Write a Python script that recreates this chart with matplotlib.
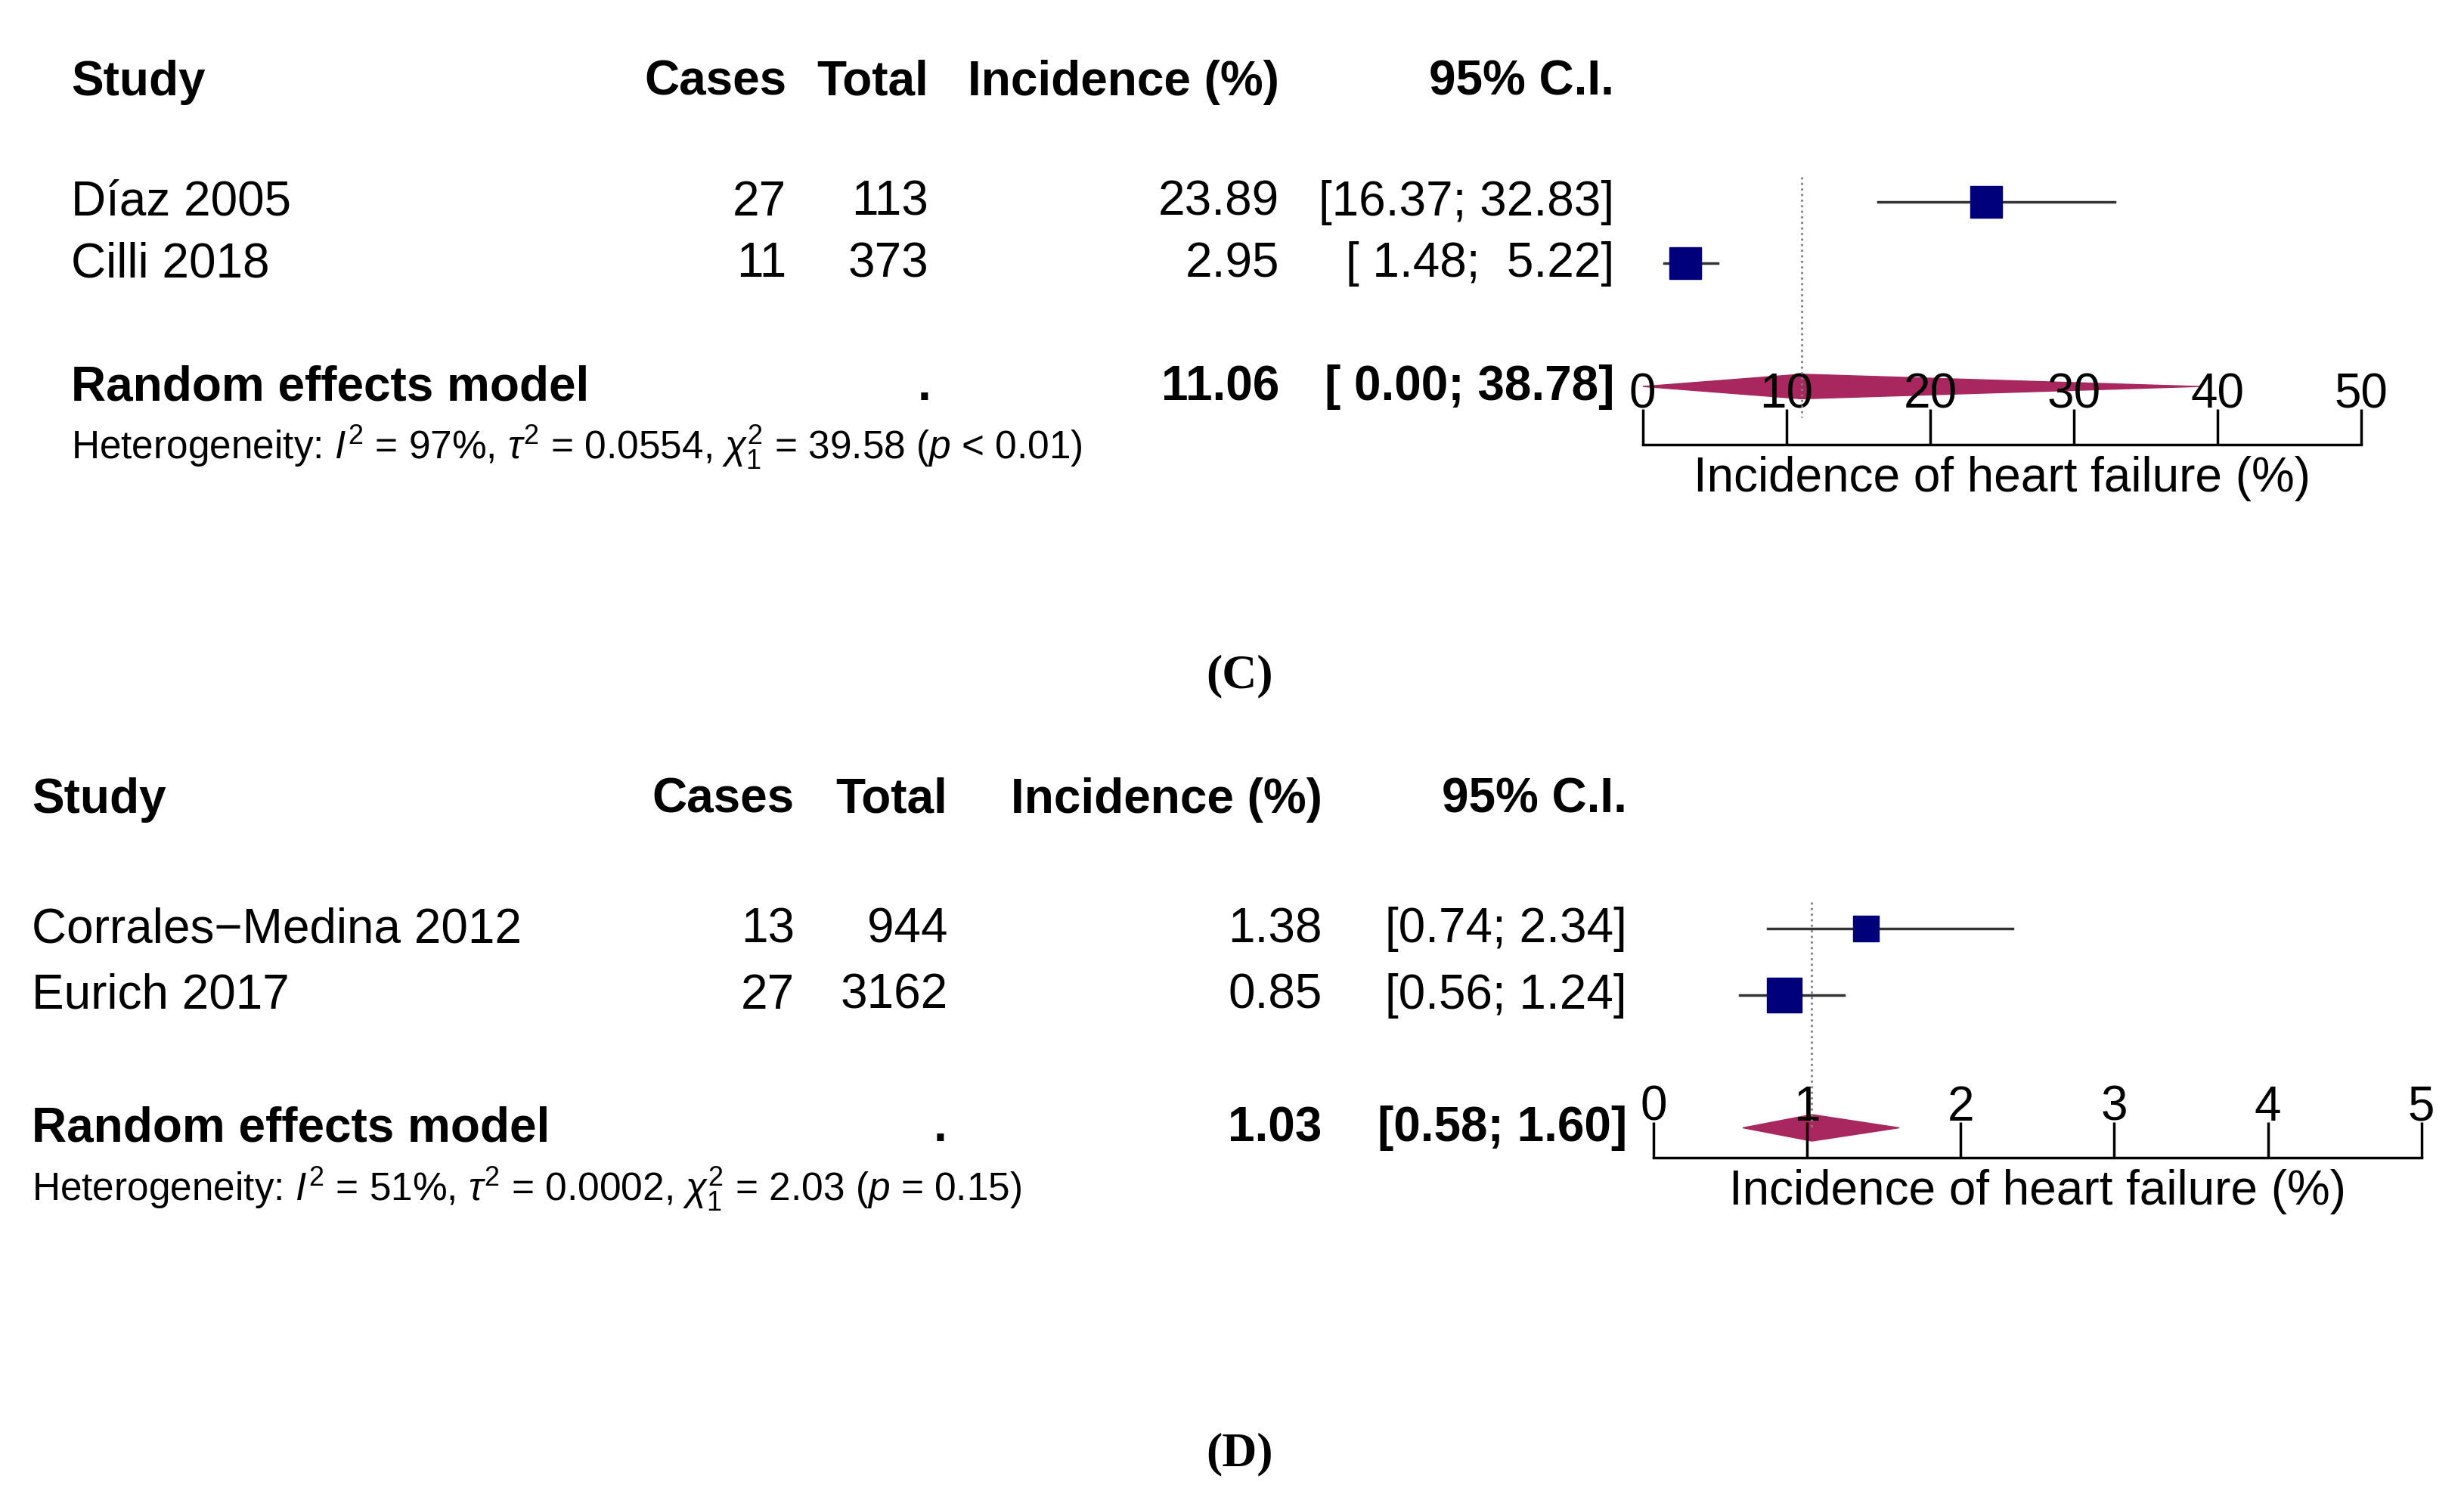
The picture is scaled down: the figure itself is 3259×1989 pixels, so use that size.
import numpy as np
import matplotlib.pyplot as plt

plt.rcParams['font.family'] = ['Liberation Sans', 'DejaVu Sans']
plt.rcParams['mathtext.fontset'] = 'custom'
plt.rcParams['mathtext.rm'] = 'Liberation Sans'
plt.rcParams['mathtext.it'] = 'Liberation Sans:italic'

# panel C data
c_studies = ['Díaz 2005', 'Cilli 2018']
c_cases = [27, 11]
c_total = [113, 373]
c_est = [23.89, 2.95]
c_lo = [16.37, 1.48]
c_hi = [32.83, 5.22]
c_ci_txt = ['[16.37; 32.83]', '[ 1.48;  5.22]']
c_size = [30, 30]
c_pool = (11.06, 0.00, 38.78)
c_pool_txt = '[ 0.00; 38.78]'
c_het = r'Heterogeneity: $I^2$ = 97%, $\tau^2$ = 0.0554, $\chi^2_1$ = 39.58 ($p$ < 0.01)'
c_ticks = [0, 10, 20, 30, 40, 50]

# panel D data
d_studies = ['Corrales\u2212Medina 2012', 'Eurich 2017']
d_cases = [13, 27]
d_total = [944, 3162]
d_est = [1.38, 0.85]
d_lo = [0.74, 0.56]
d_hi = [2.34, 1.24]
d_ci_txt = ['[0.74; 2.34]', '[0.56; 1.24]']
d_size = [24, 33]
d_pool = (1.03, 0.58, 1.60)
d_pool_txt = '[0.58; 1.60]'
d_het = r'Heterogeneity: $I^2$ = 51%, $\tau^2$ = 0.0002, $\chi^2_1$ = 2.03 ($p$ = 0.15)'
d_ticks = [0, 1, 2, 3, 4, 5]

W, H = 1560, 952  # reference coords (scaled view)
fig = plt.figure(figsize=(32.59, 19.90), dpi=100)
FS = 46


def txt(x, y, s, **kw):
    kw.setdefault('fontsize', FS)
    kw.setdefault('va', 'center')
    fig.text(x / W, 1 - y / H, s, **kw)


def panel(studies, cases, total, est, lo, hi, ci_txt, size, pool, pool_txt, het, ticks,
          y0, xs, ax_x, ax_y, letter, ly):
    sx, cx, tx, ix, cix, dotx = xs
    txt(sx, y0, 'Study', fontweight='bold')
    txt(cx, y0, 'Cases', fontweight='bold', ha='right')
    txt(tx, y0, 'Total', fontweight='bold', ha='right')
    txt(ix, y0, 'Incidence (%)', fontweight='bold', ha='right')
    txt(cix, y0, '95% C.I.', fontweight='bold', ha='right')
    r0, dr, top, bottom = ax_y
    for i in range(len(studies)):
        y = r0 + i * dr
        txt(sx, y, studies[i])
        txt(cx, y, str(cases[i]), ha='right')
        txt(tx, y, str(total[i]), ha='right')
        txt(ix, y, f'{est[i]:.2f}', ha='right')
        txt(cix, y, ci_txt[i], ha='right')
    yp = r0 + 3 * dr
    txt(sx, yp, 'Random effects model', fontweight='bold')
    txt(dotx, yp, '.', fontweight='bold', ha='center')
    txt(ix, yp, f'{pool[0]:.2f}', fontweight='bold', ha='right')
    txt(cix, yp, pool_txt, fontweight='bold', ha='right')
    txt(sx, yp + 38, het, fontsize=37)
    txt(785, ly, letter, fontsize=46, ha='center', family='Liberation Serif', fontweight='bold')

    # forest axes
    left, right = ax_x
    ax = fig.add_axes([left / W, 1 - bottom / H, (right - left) / W, (bottom - top) / H])
    ax.set_facecolor('none')
    ax.set_xlim(ticks[0], ticks[-1])
    ybot = (bottom - r0) / dr
    ax.set_ylim(ybot, (top - r0) / dr)
    for sp in ['top', 'right', 'left']:
        ax.spines[sp].set_visible(False)
    ax.spines['bottom'].set_linewidth(2.5)
    ax.set_yticks([])
    ax.set_xticks(ticks)
    ax.tick_params(axis='x', direction='in', length=34, width=2.5, labelsize=FS, pad=-70)
    ax.set_xlabel('Incidence of heart failure (%)', fontsize=FS, labelpad=10)
    ax.plot([pool[0], pool[0]], [-0.4, ybot - 0.45], ls=':', color='gray', lw=2)
    for i in range(len(studies)):
        ax.plot([lo[i], hi[i]], [i, i], color='#333333', lw=2.5)
        ax.plot(est[i], i, 's', color='#00007a', ms=size[i], mec='#00007a')
    ax.fill([pool[1], pool[0], pool[2], pool[0]], [3, 3 - 0.2, 3, 3 + 0.2], color='#a8275e')


panel(c_studies, c_cases, c_total, c_est, c_lo, c_hi, c_ci_txt, c_size, c_pool, c_pool_txt,
      c_het, c_ticks, 52, (45, 498, 588, 810, 1022, 585), (1040, 1495), (128, 39, 100, 282),
      '(C)', 428)
panel(d_studies, d_cases, d_total, d_est, d_lo, d_hi, d_ci_txt, d_size, d_pool, d_pool_txt,
      d_het, d_ticks, 506, (20, 503, 600, 837, 1030, 595), (1047, 1533), (588, 42, 560, 733),
      '(D)', 920)

fig.savefig('out.png', dpi=100)
